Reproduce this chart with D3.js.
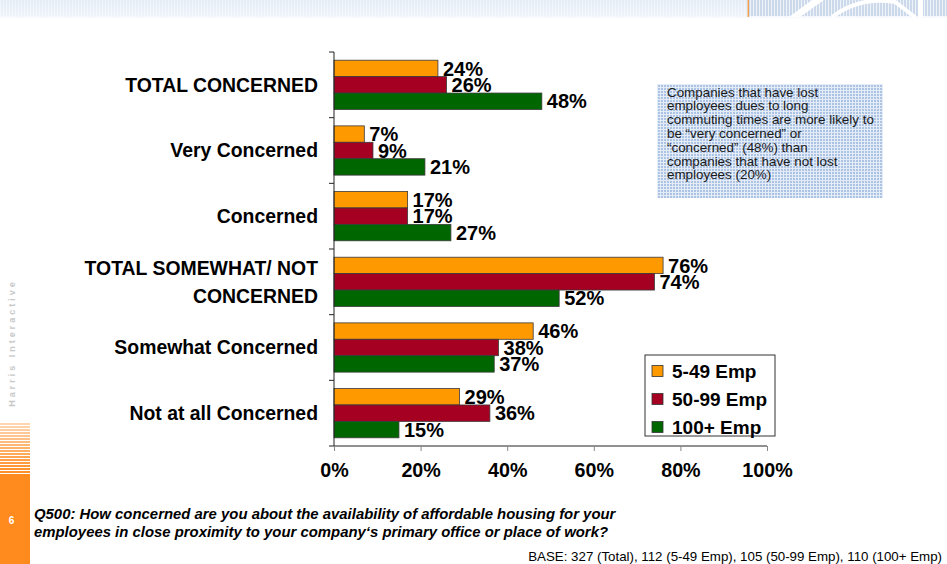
<!DOCTYPE html>
<html>
<head>
<meta charset="utf-8">
<script src="https://cdn.jsdelivr.net/npm/d3@7/dist/d3.min.js"></script>
<style>
  html, body { margin: 0; padding: 0; background: #fff; }
  svg { display: block; font-family: Arial, "Liberation Sans", sans-serif; }
</style>
</head>
<body>
<svg id="chart" width="947" height="564"></svg>
<script>
// Survey answers by company size (percent of respondents)
const categories = [
  "TOTAL CONCERNED",
  "Very Concerned",
  "Concerned",
  "TOTAL SOMEWHAT/ NOT CONCERNED",
  "Somewhat Concerned",
  "Not at all Concerned"
];
const seriesNames = ["5-49 Emp", "50-99 Emp", "100+ Emp"];
const emp5to49   = [24, 7, 17, 76, 46, 29];
const emp50to99  = [26, 9, 17, 74, 38, 36];
const emp100plus = [48, 21, 27, 52, 37, 15];
const xTicks = [0, 20, 40, 60, 80, 100];

const noteLines = [
  "Companies that have lost",
  "employees dues to long",
  "commuting times are more likely to",
  "be \u201cvery concerned\u201d or",
  "\u201cconcerned\u201d (48%) than",
  "companies that have not lost",
  "employees (20%)"
];
const questionLines = [
  "Q500: How concerned are you about the availability of affordable housing for your",
  "employees in close proximity to your company\u2018s primary office or place of work?"
];
const baseNote = "BASE: 327 (Total), 112 (5-49 Emp), 105 (50-99 Emp), 110 (100+ Emp)";
const pageNumber = "6";
const brand = "Harris Interactive";

const seriesValues = [emp5to49, emp50to99, emp100plus];
const colors = ["#FF9900", "#A50021", "#006600"];

const svg = d3.select("#chart");
const defs = svg.append("defs");

// ---------- page decoration ----------
const topGrad = defs.append("linearGradient").attr("id", "topFade")
  .attr("x1", 0).attr("y1", 0).attr("x2", 0).attr("y2", 1);
topGrad.append("stop").attr("offset", "0%").attr("stop-color", "#E3ECF6");
topGrad.append("stop").attr("offset", "75%").attr("stop-color", "#EDF3F9");
topGrad.append("stop").attr("offset", "100%").attr("stop-color", "#FFFFFF");

const stripe = defs.append("pattern").attr("id", "topStripe")
  .attr("width", 3).attr("height", 20).attr("patternUnits", "userSpaceOnUse");
stripe.append("rect").attr("width", 3).attr("height", 20).attr("fill", "url(#topFade)");
stripe.append("rect").attr("width", 1).attr("height", 20).attr("fill", "#FFFFFF").attr("opacity", 0.45);

svg.append("rect").attr("x", 0).attr("y", 0).attr("width", 947).attr("height", 18)
  .attr("fill", "url(#topStripe)");

const stripeR = defs.append("pattern").attr("id", "topStripeR")
  .attr("width", 3).attr("height", 16).attr("patternUnits", "userSpaceOnUse");
stripeR.append("rect").attr("width", 3).attr("height", 16).attr("fill", "#CCD9EA");
stripeR.append("rect").attr("width", 1).attr("height", 16).attr("fill", "#EEF3F9");
svg.append("rect").attr("x", 749).attr("y", 0).attr("width", 198).attr("height", 16)
  .attr("fill", "url(#topStripeR)");
svg.append("rect").attr("x", 747.5).attr("y", 0).attr("width", 1.5).attr("height", 17)
  .attr("fill", "#F0A050");
svg.append("path").attr("d", "M789,17 L812,0 L824,0 L800,17 Z").attr("fill", "#FFFFFF");
svg.append("path").attr("d", "M832,17 Q860,-4 895,2 L915,17")
  .attr("fill", "none").attr("stroke", "#FFFFFF").attr("stroke-width", 4);
svg.append("rect").attr("x", 918).attr("y", 0).attr("width", 5).attr("height", 17).attr("fill", "#FFFFFF");

// left orange sidebar
const side = svg.append("g");
const sideColor = "#FF8A1E";
d3.range(423, 475, 3).forEach((yy, i) => {
  side.append("rect").attr("x", 0).attr("y", yy).attr("width", 30).attr("height", 2)
    .attr("fill", sideColor).attr("opacity", 0.35 + 0.65 * (i / 17));
});
side.append("rect").attr("x", 0).attr("y", 475).attr("width", 30).attr("height", 89)
  .attr("fill", sideColor);
side.append("text").attr("x", 11.5).attr("y", 524).attr("text-anchor", "middle")
  .attr("fill", "#FFFFFF").attr("font-size", 10).attr("font-weight", "bold").text(pageNumber);
side.append("text")
  .attr("transform", "translate(15,343) rotate(-90)")
  .attr("text-anchor", "middle")
  .attr("fill", "#C8C8C8").attr("font-size", 9).attr("font-weight", "bold")
  .attr("letter-spacing", 3)
  .text(brand);

// ---------- chart ----------
const x = d3.scaleLinear().domain([0, 100]).range([334, 767]);
const y = d3.scaleBand().domain(categories).range([52, 446])
  .paddingInner(0.25).paddingOuter(0.125);
const ySub = d3.scaleBand().domain(d3.range(seriesNames.length)).range([0, y.bandwidth()]);

const data = categories.map((c, i) => ({
  category: c,
  values: seriesValues.map((vals, s) => ({ s, v: vals[i] }))
}));

const groups = svg.append("g").selectAll("g").data(data).join("g")
  .attr("transform", d => `translate(0,${y(d.category)})`);

groups.selectAll("rect").data(d => d.values).join("rect")
  .attr("x", x(0))
  .attr("y", d => ySub(d.s))
  .attr("width", d => x(d.v) - x(0))
  .attr("height", ySub.bandwidth())
  .attr("fill", d => colors[d.s])
  .attr("stroke", "#3A3A3A")
  .attr("stroke-width", 0.8);

groups.selectAll("text").data(d => d.values).join("text")
  .attr("x", d => x(d.v) + 5)
  .attr("y", d => ySub(d.s) + ySub.bandwidth() / 2)
  .attr("dy", "0.36em")
  .attr("font-size", 20).attr("font-weight", "bold").attr("fill", "#000")
  .text(d => d.v + "%");

// y axis: line with ticks between categories
const yAxisG = svg.append("g");
yAxisG.append("line").attr("x1", x(0)).attr("x2", x(0))
  .attr("y1", y.range()[0]).attr("y2", y.range()[1])
  .attr("stroke", "#222").attr("stroke-width", 1);
const boundaries = categories.map(c => y(c) - y.step() * y.paddingInner() / 2)
  .concat([y.range()[1]]);
yAxisG.selectAll("line.tick").data(boundaries).join("line").attr("class", "tick")
  .attr("x1", x(0) - 5).attr("x2", x(0))
  .attr("y1", d => d).attr("y2", d => d)
  .attr("stroke", "#222").attr("stroke-width", 1);

// category labels (wrapped)
const catFont = 19.4;
function wrapWords(text, maxWidth, measure) {
  const words = text.split(" ");
  const lines = [];
  let line = "";
  words.forEach(w => {
    const trial = line ? line + " " + w : w;
    if (measure(trial) > maxWidth && line) { lines.push(line); line = w; }
    else line = trial;
  });
  if (line) lines.push(line);
  return lines;
}
const measurer = svg.append("text").attr("font-size", catFont).attr("font-weight", "bold")
  .attr("visibility", "hidden");
const measure = s => { measurer.text(s); return measurer.node().getComputedTextLength(); };

const catLabels = svg.append("g");
categories.forEach(c => {
  const lines = wrapWords(c, 270, measure);
  const cy = y(c) + y.bandwidth() / 2;
  const lh = 28;
  const t = catLabels.append("text")
    .attr("text-anchor", "end")
    .attr("font-size", catFont).attr("font-weight", "bold").attr("fill", "#000");
  lines.forEach((ln, k) => {
    t.append("tspan").attr("x", 318)
      .attr("y", cy + (k - (lines.length - 1) / 2) * lh)
      .attr("dy", "0.36em")
      .text(ln);
  });
});
measurer.remove();

// x axis
const xAxis = d3.axisBottom(x).tickValues(xTicks).tickFormat(d => d + "%")
  .tickSize(5).tickPadding(12);
const xAxisG = svg.append("g").attr("transform", `translate(0,${y.range()[1]})`).call(xAxis);
xAxisG.select(".domain").attr("stroke", "#222").attr("d", `M${x(0)},0H${x(100)}`);
xAxisG.selectAll(".tick line").attr("stroke", "#888");
xAxisG.selectAll(".tick text").attr("font-size", 19.7).attr("font-weight", "bold")
  .attr("fill", "#000").attr("font-family", "Arial, 'Liberation Sans', sans-serif");

// ---------- note box ----------
const grid = defs.append("pattern").attr("id", "noteGrid")
  .attr("width", 3).attr("height", 3).attr("patternUnits", "userSpaceOnUse");
grid.append("rect").attr("width", 3).attr("height", 3).attr("fill", "#ADC3E3");
grid.append("rect").attr("width", 3).attr("height", 1).attr("fill", "#E3ECF7");
grid.append("rect").attr("width", 1).attr("height", 3).attr("fill", "#E3ECF7");

svg.append("rect").attr("x", 657).attr("y", 84).attr("width", 226).attr("height", 114)
  .attr("fill", "url(#noteGrid)");
const note = svg.append("text").attr("font-size", 13.4).attr("fill", "#1A1A1A");
noteLines.forEach((ln, k) => {
  note.append("tspan").attr("x", 667).attr("y", 96.5 + k * 13.8).text(ln);
});

// ---------- legend ----------
const legend = svg.append("g").attr("transform", "translate(645,355)");
legend.append("rect").attr("width", 130).attr("height", 81)
  .attr("fill", "#FFFFFF").attr("stroke", "#333").attr("stroke-width", 1);
seriesNames.forEach((name, i) => {
  const cy = 16 + i * 28;
  legend.append("rect").attr("x", 7).attr("y", cy - 5.5).attr("width", 11).attr("height", 11)
    .attr("fill", colors[i]).attr("stroke", "#333").attr("stroke-width", 0.8);
  legend.append("text").attr("x", 27).attr("y", cy).attr("dy", "0.36em")
    .attr("font-size", 19).attr("font-weight", "bold").attr("fill", "#000").text(name);
});

// ---------- footer ----------
const q = svg.append("text").attr("font-size", 14.9).attr("font-weight", "bold")
  .attr("font-style", "italic").attr("fill", "#000");
questionLines.forEach((ln, k) => {
  q.append("tspan").attr("x", 34).attr("y", 518.5 + k * 18).text(ln);
});
svg.append("text").attr("x", 942).attr("y", 560.5).attr("text-anchor", "end")
  .attr("font-size", 13.3).attr("fill", "#000").text(baseNote);
</script>
</body>
</html>
